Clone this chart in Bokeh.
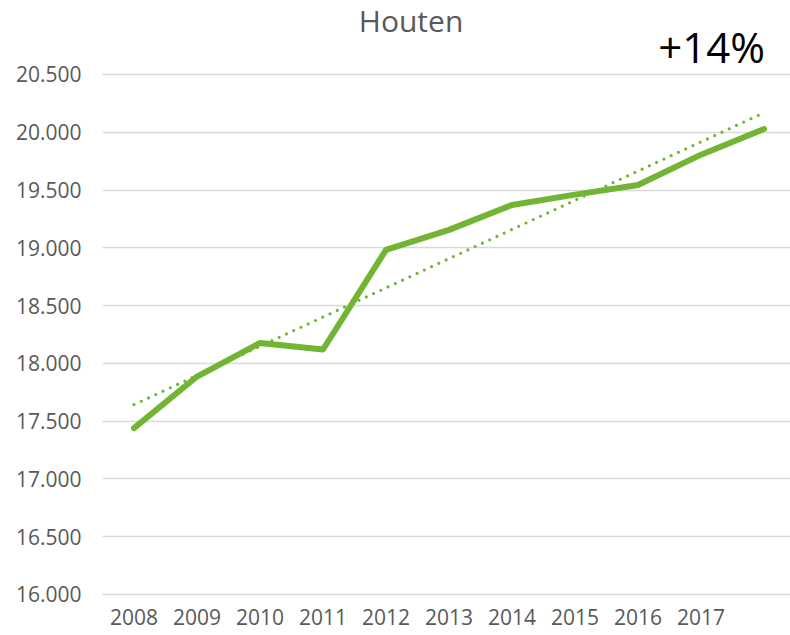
import numpy as np
from bokeh.plotting import figure
from bokeh.models import ColumnDataSource, FixedTicker, Range1d, Label
from bokeh.embed import file_html
from bokeh.resources import INLINE

# ---- data ----
years = ["2008", "2009", "2010", "2011", "2012", "2013", "2014", "2015", "2016", "2017"]
inhabitants = [17440, 17886, 18177, 18120, 18982, 19155, 19371, 19460, 19544, 19806, 20028]
y_tick_values = [16000, 16500, 17000, 17500, 18000, 18500, 19000, 19500, 20000, 20500]
y_tick_labels = ["16.000", "16.500", "17.000", "17.500", "18.000", "18.500",
                 "19.000", "19.500", "20.000", "20.500"]
title_text = "Houten"
growth_text = "+14%"

idx = np.arange(len(inhabitants))
slope, intercept = np.polyfit(idx, inhabitants, 1)
trend = slope * idx + intercept

src = ColumnDataSource(dict(x=idx, y=inhabitants, t=trend))

GREEN = "#72b433"
GRAY = "#595959"
FONT = "Open Sans"

p = figure(width=790, height=635, output_backend="svg", toolbar_location=None,
           x_range=Range1d(-0.5, 10.42), y_range=Range1d(15896, 21140),
           min_border_left=102, min_border_right=0, min_border_top=0, min_border_bottom=29)
p.outline_line_color = None
p.background_fill_color = "white"
p.border_fill_color = "white"

p.line("x", "t", source=src, line_color=GREEN, line_width=3.2, line_dash="0 8",
       line_cap="round")
p.line("x", "y", source=src, line_color=GREEN, line_width=6, line_join="round",
       line_cap="round")

# axes
p.xaxis.ticker = FixedTicker(ticks=list(range(len(years))))
p.xaxis.major_label_overrides = {i: y for i, y in enumerate(years)}
p.yaxis.ticker = FixedTicker(ticks=y_tick_values)
p.yaxis.major_label_overrides = {v: s for v, s in zip(y_tick_values, y_tick_labels)}
for ax in (p.xaxis[0], p.yaxis[0]):
    ax.axis_line_color = None
    ax.major_tick_line_color = None
    ax.minor_tick_line_color = None
    ax.major_tick_out = 0
    ax.major_tick_in = 0
    ax.major_label_text_font = FONT
    ax.major_label_text_font_size = "21px"
    ax.major_label_text_color = GRAY
p.xaxis.major_label_standoff = 2
p.yaxis.major_label_standoff = 21

p.xgrid.grid_line_color = None
p.ygrid.grid_line_color = "#d9d9d9"
p.ygrid.grid_line_width = 1.5

p.add_layout(Label(x=4.397, y=20965, text=title_text, text_align="center",
                   text_baseline="alphabetic", text_font=FONT, text_font_size="30px",
                   text_color=GRAY))
p.add_layout(Label(x=9.167, y=20744, text=growth_text, text_align="center",
                   text_baseline="alphabetic", text_font=FONT, text_font_size="42px",
                   text_color="black"))

open("out.html", "w").write(file_html(p, INLINE))
